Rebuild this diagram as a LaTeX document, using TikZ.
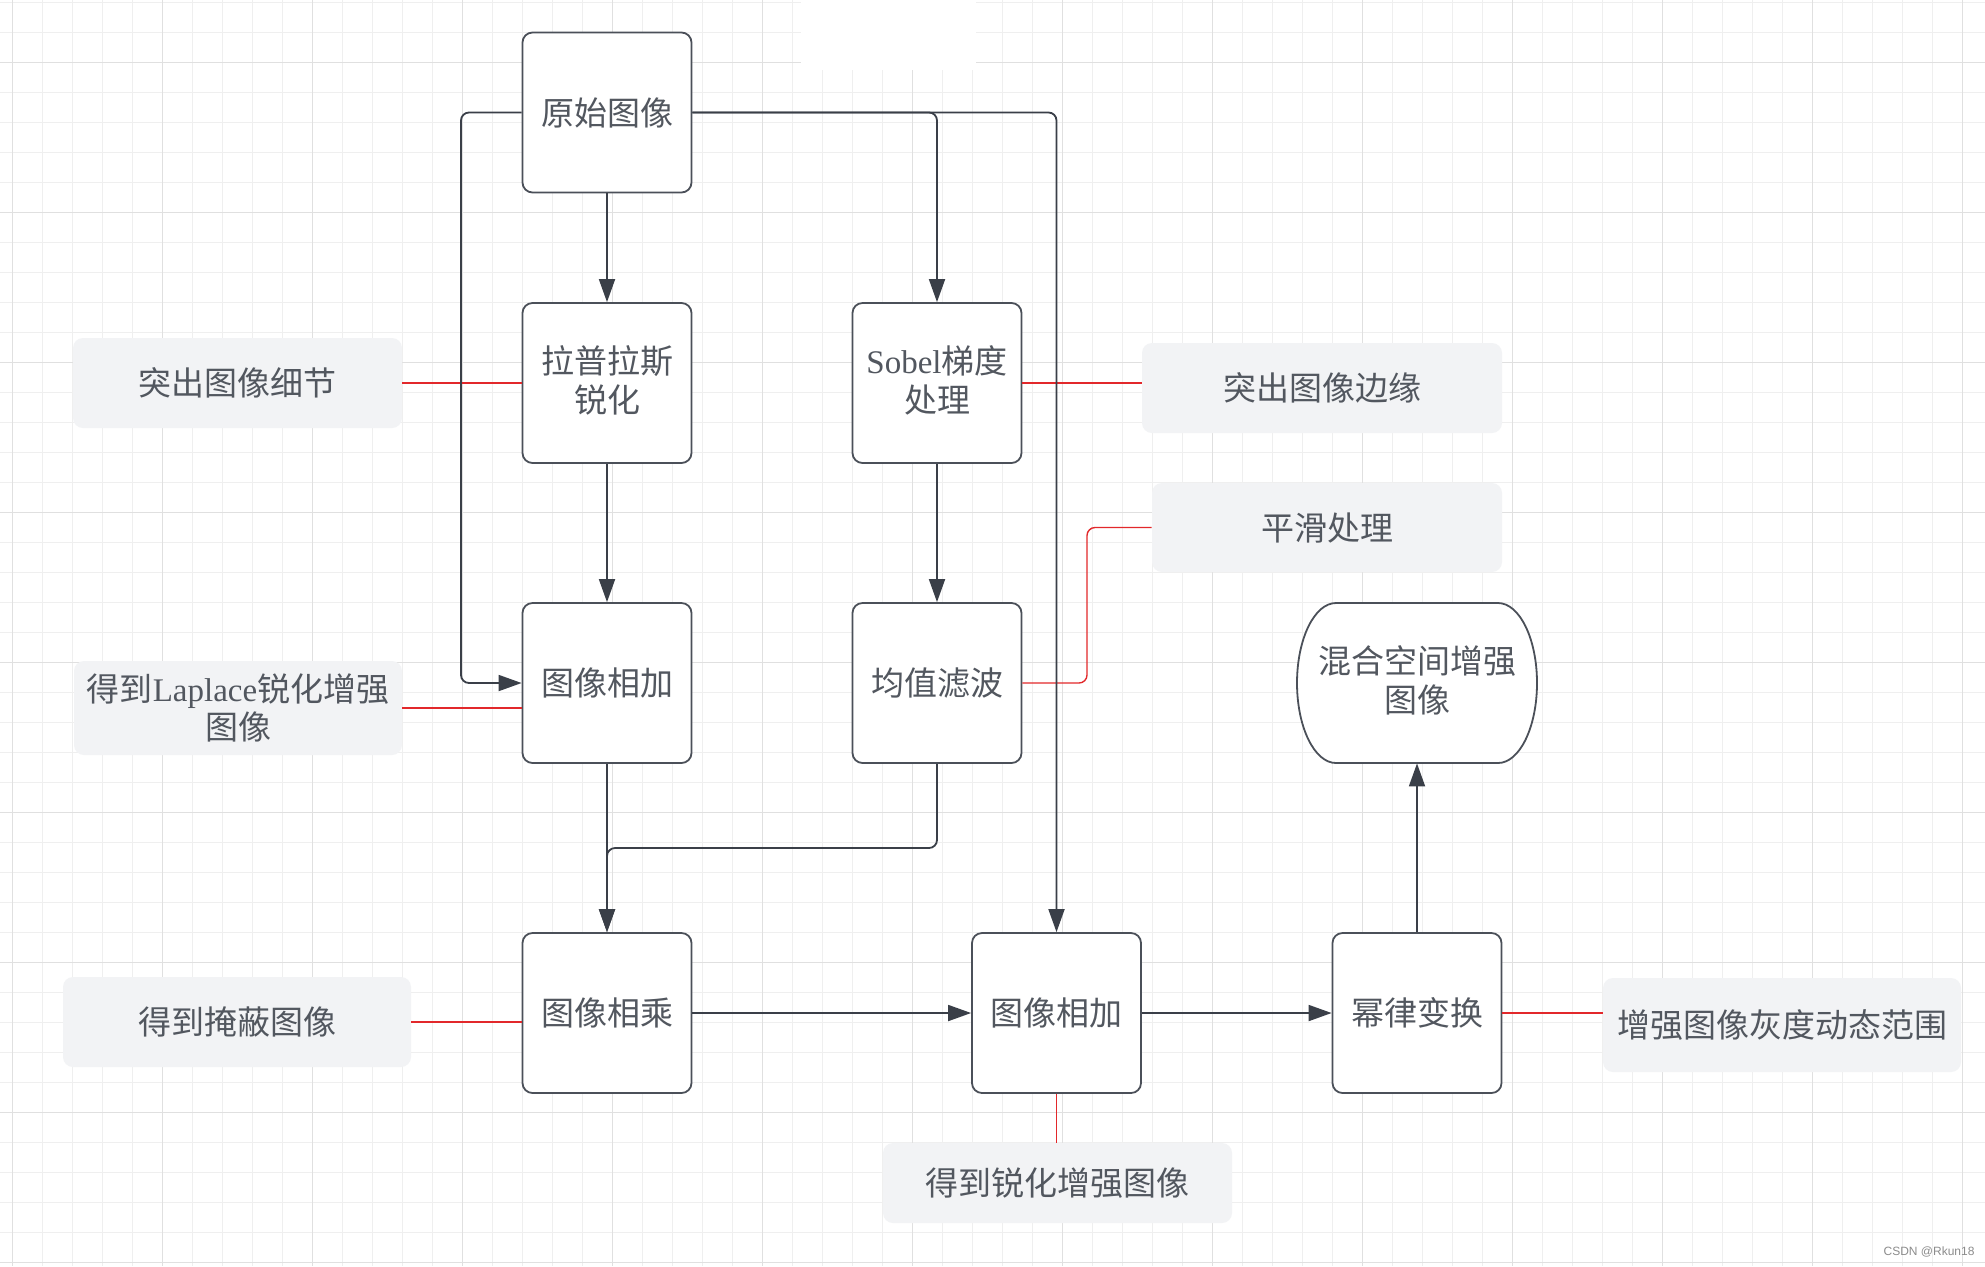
\documentclass[tikz,border=0pt]{standalone}
\usepackage{fontspec}
\setmainfont{Noto Sans CJK SC}
\newfontfamily\latf{Liberation Serif}
\newfontfamily\wmf{Liberation Sans}
\usetikzlibrary{arrows.meta}

\definecolor{gridminor}{HTML}{EFEFEF}
\definecolor{gridmajor}{HTML}{E0E0E0}
\definecolor{edge}{HTML}{4B5059}
\definecolor{ink}{HTML}{3A3F48}
\definecolor{txt}{HTML}{52575F}
\definecolor{note}{HTML}{F2F3F5}
\definecolor{leadred}{HTML}{E2282B}

% two-line labels sit a little above the box centre
\newcommand{\liftlabel}[1]{\raisebox{-0.7pt}[\height][\depth]{\begin{tabular}{@{}c@{}}#1\end{tabular}}}

\begin{document}
\begin{tikzpicture}[x=0.5pt,y=-0.5pt,
  labelfont/.style={font=\fontsize{16.5}{19}\selectfont},
  proc/.style={draw=edge, line width=0.9pt, rounded corners=5pt, fill=white,
    minimum width=84.5pt, minimum height=80pt, align=center, text=txt,
    labelfont, inner sep=2pt},
  anno/.style={fill=note, rounded corners=5pt, align=center, text=txt,
    labelfont, inner sep=0pt},
  conn/.style={draw=ink, line width=0.9pt, rounded corners=4pt,
    -{Triangle[length=11.5pt,width=8pt]}},
  leadline/.style={draw=leadred, line width=0.7pt, rounded corners=4pt}]

% canvas and grid
\useasboundingbox (0,0) rectangle (1985,1266);
\fill[white] (0,0) rectangle (1985,1266);
\foreach \x in {12,42,...,1985} \draw[gridminor, line width=0.5pt] (\x,0) -- (\x,1266);
\foreach \y in {2,32,...,1266} \draw[gridminor, line width=0.5pt] (0,\y) -- (1985,\y);
\foreach \x in {12,162,...,1985} \draw[gridmajor, line width=0.5pt] (\x,0) -- (\x,1266);
\foreach \y in {62,212,...,1266} \draw[gridmajor, line width=0.5pt] (0,\y) -- (1985,\y);
\fill[white] (801,0) rectangle (976,70);

% processing steps
\node[proc] (orig)  at (607,112.5)   {原始图像};
\node[proc] (lap)   at (607,383)     {\liftlabel{拉普拉斯\\锐化}};
\node[proc] (add1)  at (607,683)     {图像相加};
\node[proc] (mul)   at (607,1013)    {图像相乘};
\node[proc] (sobel) at (937,383)     {\liftlabel{{\latf Sobel}梯度\\处理}};
\node[proc] (mean)  at (937,683)     {均值滤波};
\node[proc] (add2)  at (1056.5,1013) {图像相加};
\node[proc] (pow)   at (1417,1013)   {幂律变换};

% result terminal with curved sides
\draw[draw=edge, line width=0.9pt, fill=white]
  (1336,603) -- (1498,603)
  arc[start angle=90, end angle=-90, x radius=19.5pt, y radius=40pt]
  -- (1336,763)
  arc[start angle=270, end angle=90, x radius=19.5pt, y radius=40pt]
  -- cycle;
\node[align=center, text=txt, labelfont, minimum width=120pt, minimum height=80pt,
  inner sep=0pt] (mix) at (1417,683) {\liftlabel{混合空间增强\\图像}};

% notes
\node[anno, minimum width=164.5pt, minimum height=45pt] (n1) at (237.5,383)  {突出图像细节};
\node[anno, minimum width=164pt, minimum height=47pt]   (n2) at (238,708)    {得到{\latf Laplace}锐化增强\\图像};
\node[anno, minimum width=174pt, minimum height=45pt]   (n3) at (237,1022)   {得到掩蔽图像};
\node[anno, minimum width=180pt, minimum height=45pt]   (n4) at (1322,388)   {突出图像边缘};
\node[anno, minimum width=175pt, minimum height=44.5pt] (n5) at (1327,527.5) {平滑处理};
\node[anno, minimum width=174.5pt, minimum height=40pt] (n6) at (1057.5,1183) {得到锐化增强图像};
\node[anno, minimum width=179pt, minimum height=47pt]   (n7) at (1782,1025)  {增强图像灰度动态范围};

% note leaders
\draw[leadline] (n1.east |- lap.west) -- (lap.west);
\draw[leadline] (n2.east) -- (add1.west |- n2.east);
\draw[leadline] (n3.east) -- (mul.west |- n3.east);
\draw[leadline] (sobel.east) -- (n4.west |- sobel.east);
\draw[leadline] (mean.east) -- (1087,683) |- (n5.west);
\draw[leadline] (add2.south) -- (n6.north -| add2.south);
\draw[leadline] (pow.east) -- (n7.west |- pow.east);

% flow connectors
\draw[conn] (orig.south) -- (lap.north);
\draw[conn] (orig.west) -- (461,112.5) |- (add1.west);
\draw[conn] (orig.east) -| (sobel.north);
\draw[conn] (orig.east) -| (add2.north);
\draw[conn] (lap.south) -- (add1.north);
\draw[conn] (sobel.south) -- (mean.north);
\draw[conn] (add1.south) -- (mul.north);
\draw[conn] (mean.south) -- (937,848) -| (mul.north);
\draw[conn] (mul.east) -- (add2.west);
\draw[conn] (add2.east) -- (pow.west);
\draw[conn] (pow.north) -- (mix.south);

% watermark
\node[font=\wmf\fontsize{6}{7}\selectfont, text=black!45, inner sep=0pt] (wm) at (1929,1252) {CSDN @Rkun18};
\end{tikzpicture}
\end{document}
